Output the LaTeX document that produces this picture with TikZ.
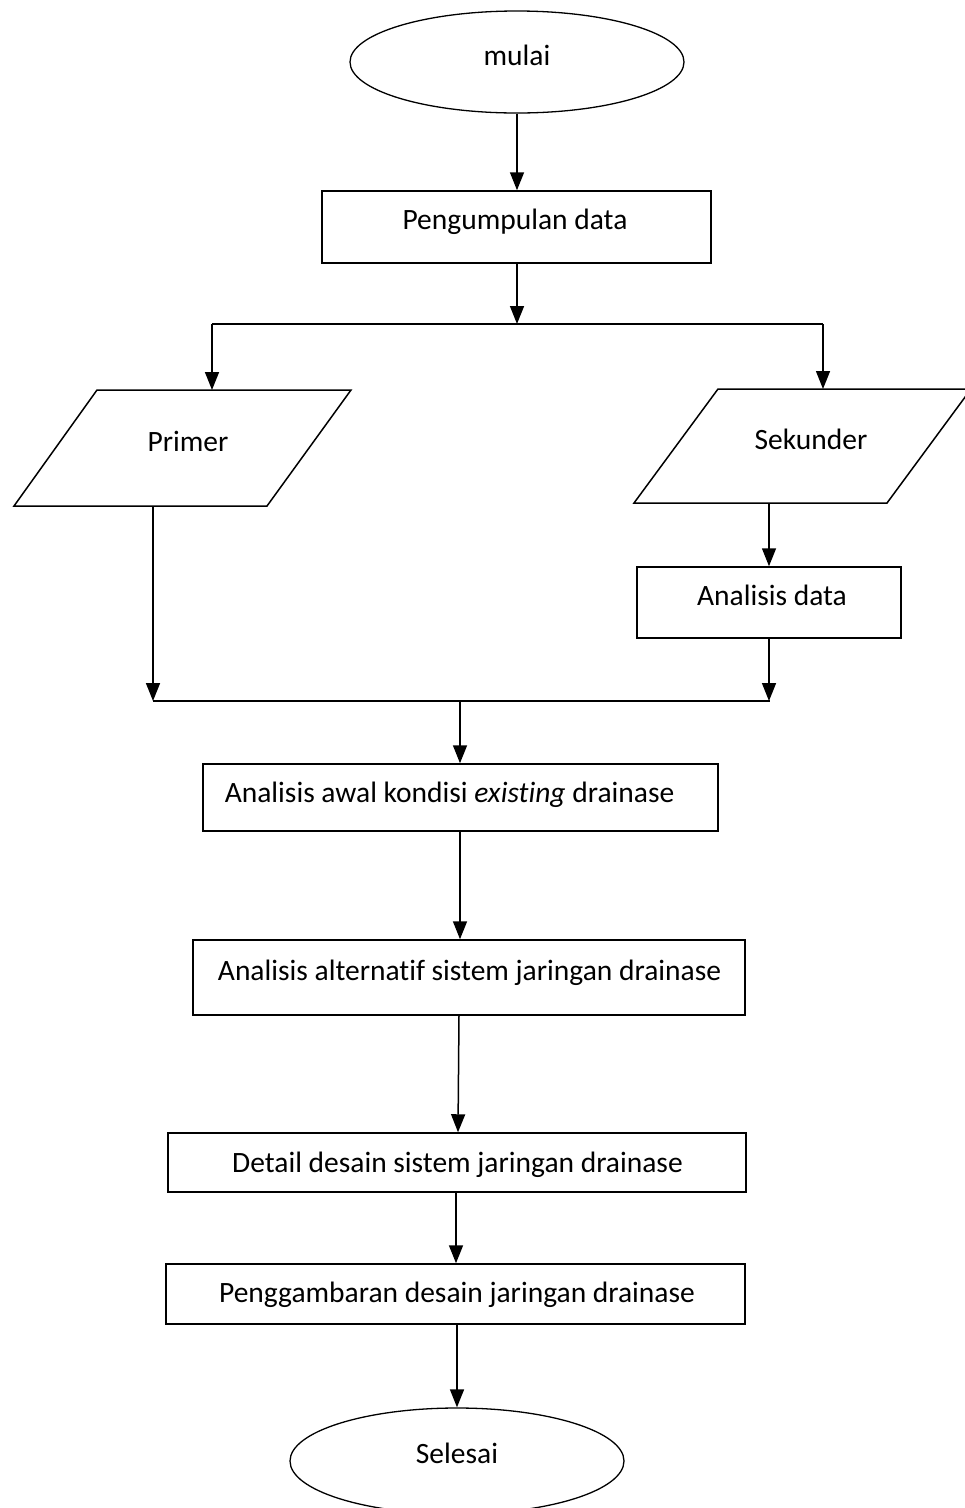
\documentclass[tikz,border=0pt]{standalone}
\usepackage{fontspec}
\setmainfont{Carlito}[Ligatures=NoCommon]
\usetikzlibrary{shapes.geometric,arrows.meta}
\begin{document}
\begin{tikzpicture}[x=1pt,y=-1pt,
  every node/.style={inner sep=0pt},
  txt/.style={font=\fontsize{29.5}{35}\selectfont, anchor=base},
  box/.style={draw, line width=1.5pt, rectangle},
  term/.style={draw, line width=1.3pt, ellipse, minimum width=334pt},
  shapeline/.style={line width=1.5pt, line join=miter},
  conn/.style={line width=1.5pt},
  arr/.style={conn, -{Triangle[width=14pt,length=18pt]}}
]
\useasboundingbox (0,0) rectangle (965,1508);

% shapes
\node[term, minimum height=102pt] (mulai) at (517,62) {};
\node[box, minimum width=389pt, minimum height=72pt] (peng) at (516.5,227) {};
\draw[shapeline] (97,390) coordinate (primerTL) -- (351,390) -- (267,506) -- (14,506) coordinate (primerBL) -- cycle;
\draw[shapeline] (718,389) coordinate (sekTL) -- (971,389) -- (887,503) -- (634,503) coordinate (sekBL) -- cycle;
\node[box, minimum width=264pt, minimum height=71pt] (adata) at (769,602.5) {};
\node[box, minimum width=515pt, minimum height=67pt] (awal) at (460.5,797.5) {};
\node[box, minimum width=552pt, minimum height=75pt] (alt) at (469,977.5) {};
\node[box, minimum width=578pt, minimum height=59pt] (detail) at (457,1162.5) {};
\node[box, minimum width=579pt, minimum height=60pt] (gamb) at (455.5,1294) {};
\node[term, minimum height=106pt] (selesai) at (457,1461) {};

% texts
\node[txt] (tmulai) at (517,65) {mulai};
\node[txt] (tpeng) at (515,229) {Pengumpulan data};
\node[txt] (tprimer) at (188,451) {Primer};
\node[txt] (tsek) at (811,449) {Sekunder};
\node[txt] (tadata) at (772,605) {Analisis data};
\node[txt] (tawal) at (449.5,802) {Analisis awal kondisi \textit{existing} drainase};
\node[txt] (talt) at (469.5,980) {Analisis alternatif sistem jaringan drainase};
\node[txt] (tdetail) at (457.5,1172) {Detail desain sistem jaringan drainase};
\node[txt] (tgamb) at (457,1302) {Penggambaran desain jaringan drainase};
\node[txt] (tsel) at (457,1463) {Selesai};

% junctions
\coordinate (j1) at (517,324);
\coordinate (j1l) at (212,324);
\coordinate (j1r) at (823,324);
\coordinate (j2l) at (153,701);
\coordinate (j2r) at (770,701);
\coordinate (j2m) at (460,701);

\draw[arr] (mulai.south) -- (peng.north -| mulai.south);
\draw[arr] (peng.south -| j1) -- (j1);
\draw[conn] (j1l) -- (j1r);
\draw[arr] (j1l) -- (j1l |- primerTL);
\draw[arr] (j1r) -- (j1r |- sekTL);
\draw[arr] (primerBL -| j2l) -- (j2l);
\draw[arr] (sekBL -| adata.north) -- (adata.north);
\draw[arr] (adata.south) -- (adata.south |- j2r);
\draw[conn] (j2l) -- (j2r);
\draw[arr] (j2m) -- (j2m |- awal.north);
\draw[arr] (awal.south -| j2m) -- (j2m |- alt.north);
\draw[arr] (alt.south -| 459,0) -- (detail.north -| 458,0);
\draw[arr] (detail.south -| 456,0) -- (gamb.north -| 456,0);
\draw[arr] (gamb.south -| selesai.north) -- (selesai.north);
\end{tikzpicture}
\end{document}
